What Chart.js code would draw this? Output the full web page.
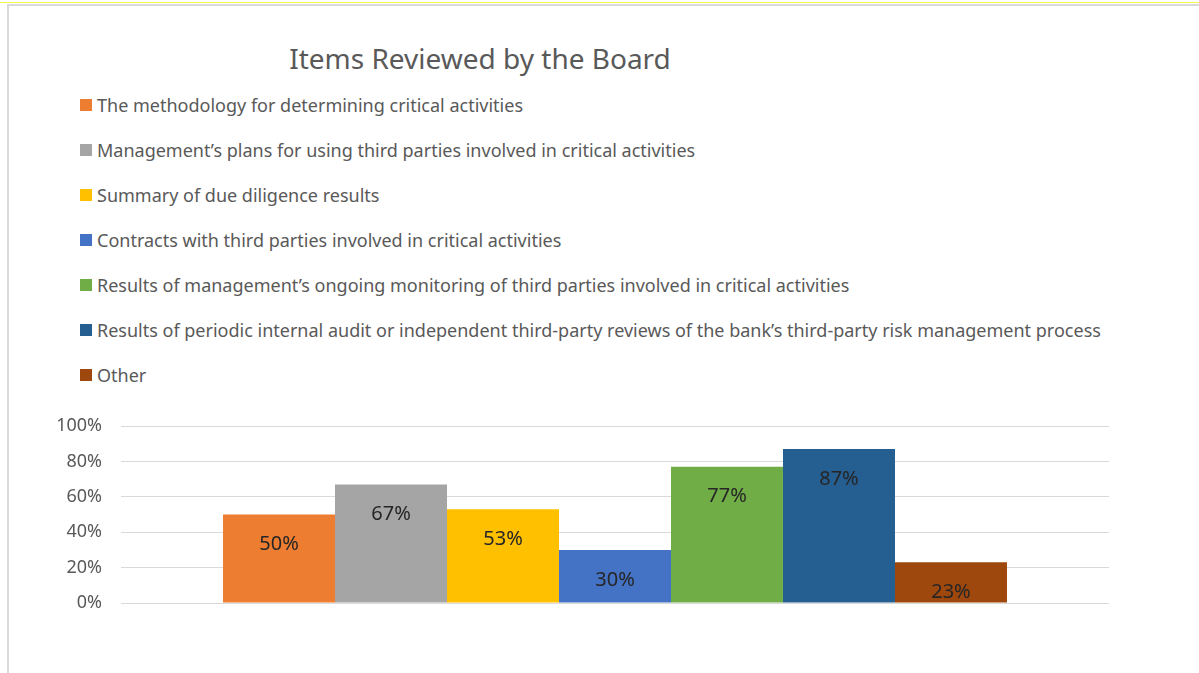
<!DOCTYPE html>
<html>
<head>
<meta charset="utf-8">
<script src="https://cdn.jsdelivr.net/npm/chart.js@4"></script>
<style>
  body { margin: 0; background: #fff; }
  #wrap { position: relative; width: 1199px; height: 673px; overflow: hidden; background: #fff; }
  #frame { position: absolute; left: 7px; top: 4px; right: -10px; bottom: -10px;
           border-left: 2px solid #d9d9d9; border-top: 2px solid #d9d9d9; }
  #topline { position: absolute; left: 0; top: 2px; width: 1199px; height: 1px; background: #f4f44a; }
  #title { position: absolute; left: 230px; top: 39px; width: 500px; text-align: center; white-space: nowrap;
           font: 28px "Noto Sans", sans-serif; color: #595959; }
  #legend { position: absolute; left: 80px; top: 93px; }
  .item { height: 45px; display: flex; align-items: flex-start; white-space: nowrap;
          font: 18px "Noto Sans", sans-serif; color: #595959; }
  .box { width: 12px; height: 12px; margin: 6px 5px 0 0; }
  canvas { position: absolute; left: 0; top: 0; }
</style>
</head>
<body>
<div id="wrap">
  <div id="topline"></div>
  <div id="frame"></div>
  <div id="title">Items Reviewed by the Board</div>
  <div id="legend"></div>
  <canvas id="bar-chart" width="1199" height="673"></canvas>
</div>
<script>
const chartTitle = "Items Reviewed by the Board";
const categories = [""];
const seriesNames = [
    "The methodology for determining critical activities",
    "Management\u2019s plans for using third parties involved in critical activities",
    "Summary of due diligence results",
    "Contracts with third parties involved in critical activities",
    "Results of management\u2019s ongoing monitoring of third parties involved in critical activities",
    "Results of periodic internal audit or independent third-party reviews of the bank\u2019s third-party risk management process",
    "Other",
];
const seriesValues = [50, 67, 53, 30, 77, 87, 23];
const seriesColors = ["#ed7d31", "#a5a5a5", "#ffc000", "#4472c4", "#70ad47", "#255e91", "#9e480e"];
const tickValues = [0, 20, 40, 60, 80, 100];

// legend as html, one row per series
const legendBox = document.getElementById("legend");
seriesNames.forEach((name, i) => {
    const row = document.createElement("div");
    row.className = "item";
    row.innerHTML = `<div class="box" style="background:${seriesColors[i]}"></div><span>${name}</span>`;
    legendBox.appendChild(row);
});

const datasets = seriesNames.map((name, i) => ({
    label: name,
    data: [seriesValues[i]],
    backgroundColor: seriesColors[i],
    borderWidth: 0,
}));

// percent labels inside the top of each bar
const barLabels = {
    id: "barLabels",
    afterDatasetsDraw(chart) {
        const ctx = chart.ctx;
        ctx.save();
        ctx.font = '20px "Noto Sans", sans-serif';
        ctx.fillStyle = "#262626";
        ctx.textAlign = "center";
        ctx.textBaseline = "middle";
        chart.data.datasets.forEach((ds, i) => {
            chart.getDatasetMeta(i).data.forEach((bar, j) => {
                ctx.fillText(ds.data[j] + "%", bar.x, bar.y + 30);
            });
        });
        ctx.restore();
    },
};

new Chart(document.getElementById("bar-chart"), {
    type: "bar",
    data: { labels: categories, datasets: datasets },
    options: {
        responsive: false,
        animation: false,
        layout: { padding: { left: 0, right: 90, top: 426, bottom: 62 } },
        datasets: { bar: { categoryPercentage: 0.7935, barPercentage: 1 } },
        plugins: {
            legend: { display: false },
            title: { display: false, text: chartTitle },
            tooltip: { enabled: false },
        },
        scales: {
            x: {
                ticks: { display: false },
                grid: { display: false },
                border: { display: false },
            },
            y: {
                min: 0,
                max: 100,
                afterBuildTicks: (scale) => {
                    scale.ticks = tickValues.map((v) => ({ value: v }));
                },
                afterFit: (scale) => { scale.width = 121; },
                ticks: {
                    padding: 19,
                    color: "#595959",
                    font: { family: '"Noto Sans", sans-serif', size: 18 },
                    callback: (v) => v + "%",
                },
                grid: { color: "#d9d9d9", lineWidth: 1, drawTicks: false },
                border: { display: false },
            },
        },
    },
    plugins: [barLabels],
});
</script>
</body>
</html>
